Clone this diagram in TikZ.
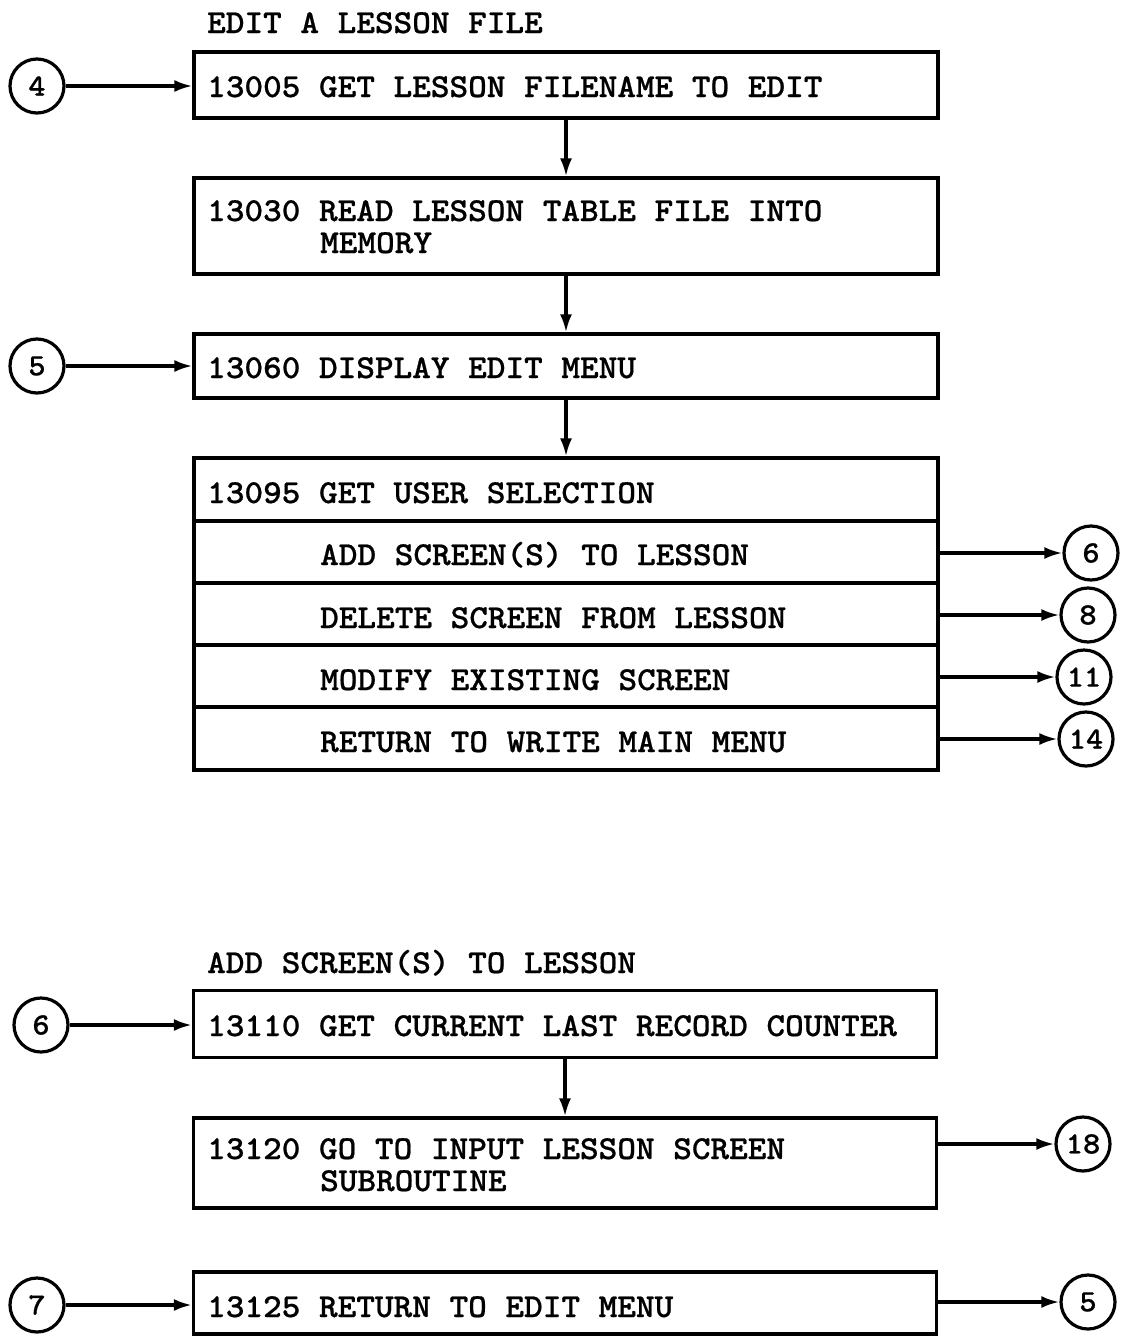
\documentclass[tikz,border=0pt]{standalone}
\usepackage{fontspec}
\newfontfamily\tw[FakeStretch=1.06,FakeBold=0.6]{lmmonolt10-bold.otf}
\usetikzlibrary{arrows.meta}
\begin{document}
\begin{tikzpicture}[x=1pt,y=-1pt,
  box/.style={draw, line width=3.2pt, inner sep=0pt},
  sep/.style={line width=3.2pt},
  lbl/.style={anchor=base west, inner sep=0pt, font=\tw\fontsize{33.5}{34}\selectfont},
  conn/.style={draw, circle, line width=3.2pt, minimum size=54pt, inner sep=0pt, font=\tw\fontsize{31}{32}\selectfont},
  arr/.style={line width=3.2pt, -{Latex[length=18pt,width=12pt]}}
]
\useasboundingbox (0,0) rectangle (1120,1336);

% ---------- EDIT A LESSON FILE ----------
\node[lbl] (t1) at (207,33) {EDIT A LESSON FILE};

\node[box, minimum width=744pt, minimum height=66pt] (b1) at (566,85) {};
\node[lbl] (b1t) at (207,97) {13005 GET LESSON FILENAME TO EDIT};

\node[box, minimum width=744pt, minimum height=96pt] (b2) at (566,226) {};
\node[lbl] (b2t) at (207,221) {13030 READ LESSON TABLE FILE INTO};
\node[lbl] (b2u) at (320,253) {MEMORY};

\node[box, minimum width=744pt, minimum height=64pt] (b3) at (566,366) {};
\node[lbl] (b3t) at (207,378) {13060 DISPLAY EDIT MENU};

\node[box, minimum width=744pt, minimum height=312pt] (b4) at (566,614) {};
\draw[sep] (194,521) -- (938,521);
\draw[sep] (194,583) -- (938,583);
\draw[sep] (194,645) -- (938,645);
\draw[sep] (194,707) -- (938,707);
\node[lbl] (b4t) at (207,503) {13095 GET USER SELECTION};
\node[lbl] (r1) at (320,565) {ADD SCREEN(S) TO LESSON};
\node[lbl] (r2) at (320,628) {DELETE SCREEN FROM LESSON};
\node[lbl] (r3) at (320,690) {MODIFY EXISTING SCREEN};
\node[lbl] (r4) at (320,752) {RETURN TO WRITE MAIN MENU};

\node[conn] (c4) at (37,86) {4};
\node[conn] (c5) at (37,366) {5};
\node[conn] (c6a) at (1091,553) {6};
\node[conn] (c8) at (1088,615) {8};
\node[conn] (c11) at (1084,677) {11};
\node[conn] (c14) at (1086,739) {14};

\coordinate (e1) at (938,553);
\coordinate (e2) at (938,615);
\coordinate (e3) at (938,677);
\coordinate (e4) at (938,739);

\draw[arr] (c4) -- (b1.west |- c4);
\draw[arr] (c5) -- (b3.west |- c5);
\draw[arr] (b1.south) -- (b2.north);
\draw[arr] (b2.south) -- (b3.north);
\draw[arr] (b3.south) -- (b4.north);
\draw[arr] (e1) -- (c6a);
\draw[arr] (e2) -- (c8);
\draw[arr] (e3) -- (c11);
\draw[arr] (e4) -- (c14);

% ---------- ADD SCREEN(S) TO LESSON ----------
\node[lbl] (t2) at (207,973) {ADD SCREEN(S) TO LESSON};

\node[box, minimum width=743pt, minimum height=67pt] (b5) at (565,1024) {};
\node[lbl] (b5t) at (207,1036) {13110 GET CURRENT LAST RECORD COUNTER};

\node[box, minimum width=743pt, minimum height=90pt] (b6) at (565,1163) {};
\node[lbl] (b6t) at (207,1159) {13120 GO TO INPUT LESSON SCREEN};
\node[lbl] (b6u) at (320,1191) {SUBROUTINE};

\node[box, minimum width=743pt, minimum height=62pt] (b7) at (565,1303) {};
\node[lbl] (b7t) at (207,1317) {13125 RETURN TO EDIT MENU};

\node[conn] (c6b) at (41,1025) {6};
\node[conn] (c18) at (1083,1144) {18};
\node[conn] (c7) at (37,1305) {7};
\node[conn] (c5b) at (1088,1302) {5};

\coordinate (e5) at (936.5,1144);
\coordinate (e6) at (936.5,1302);

\draw[arr] (c6b) -- (b5.west |- c6b);
\draw[arr] (b5.south) -- (b6.north);
\draw[arr] (e5) -- (c18);
\draw[arr] (c7) -- (b7.west |- c7);
\draw[arr] (e6) -- (c5b);
\end{tikzpicture}
\end{document}
